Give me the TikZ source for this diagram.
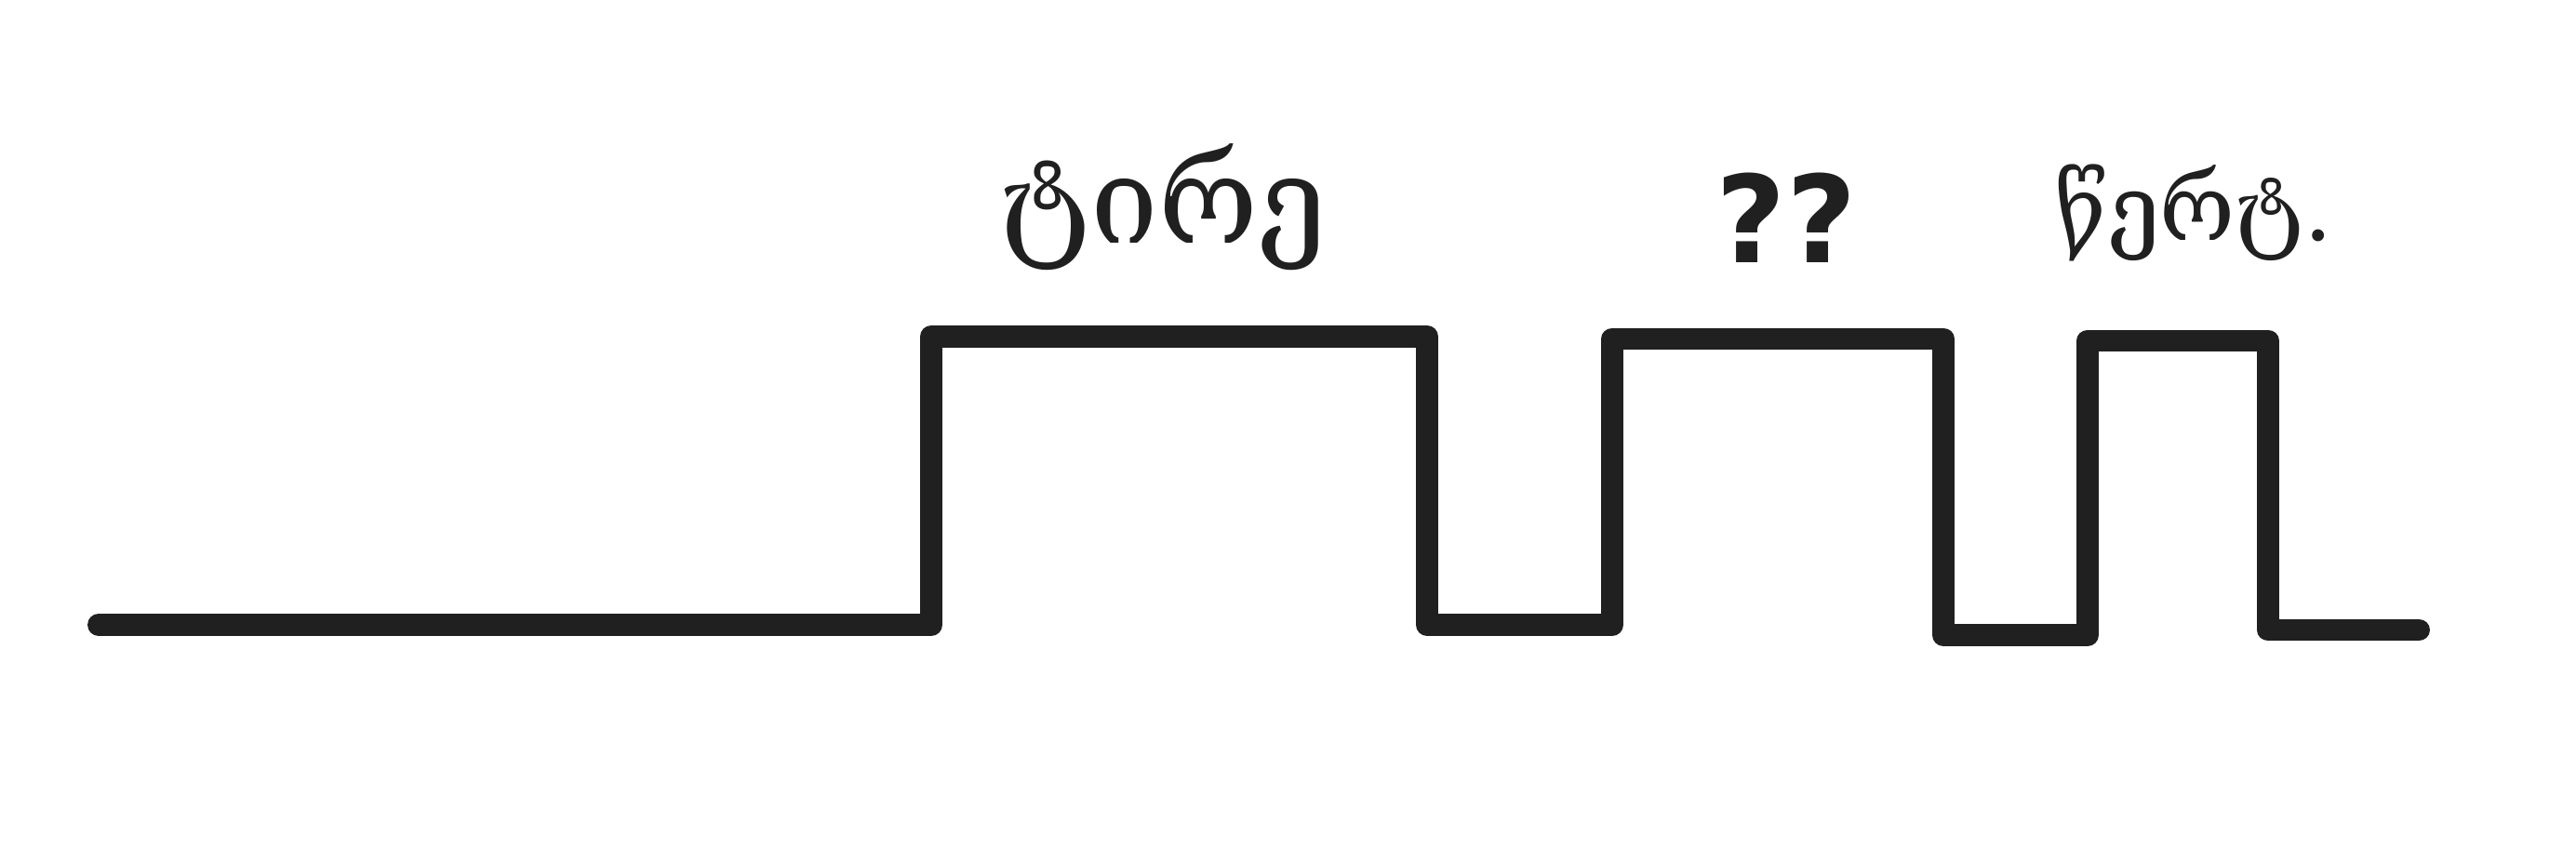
\documentclass[tikz,border=0pt]{standalone}
\usepackage{fontspec}
\usepackage{xcolor}
\usepackage{tikz}
\usetikzlibrary{positioning}
\newfontfamily\geofont{DejaVu Serif}
\newfontfamily\markfont{DejaVu Sans}
\definecolor{signalgray}{HTML}{202020}

\begin{document}
\begin{tikzpicture}[
    wave/.style={line width=6.8pt, draw=signalgray, line cap=round, line join=round},
    wordlabel/.style={font=\geofont\fontsize{32}{38}\selectfont, text=signalgray, anchor=base, inner sep=0pt}]
    \useasboundingbox (0,0) rectangle (27.69,9.11);

    % Signal corners
    \coordinate (start) at (1.06,2.39);
    \coordinate (up1) at (10.01,2.39);
    \coordinate (top1a) at (10.01,5.49);
    \coordinate (top1b) at (15.34,5.49);
    \coordinate (down1) at (15.34,2.39);
    \coordinate (up2) at (17.33,2.39);
    \coordinate (top2a) at (17.33,5.465);
    \coordinate (top2b) at (20.89,5.465);
    \coordinate (down2) at (20.89,2.28);
    \coordinate (up3) at (22.44,2.28);
    \coordinate (top3a) at (22.44,5.445);
    \coordinate (top3b) at (24.38,5.445);
    \coordinate (down3) at (24.38,2.335);
    \coordinate (stop) at (26.00,2.335);

    % Signal
    \draw[wave] (start) -- (up1) -- (top1a) -- (top1b) -- (down1) -- (up2) -- (top2a) -- (top2b)
        -- (down2) -- (up3) -- (top3a) -- (top3b) -- (down3) -- (stop);

    % Words
    \node[wordlabel, font=\geofont\fontsize{37}{44}\selectfont] (dash) at (12.50,6.50) {ტირე};
    \node[wordlabel, font=\markfont\bfseries\fontsize{37}{44}\selectfont] (unknown) at (19.20,6.29) {??};
    \node[wordlabel, font=\geofont\fontsize{28}{34}\selectfont] (dot) at (23.58,6.53) {წერტ.};
\end{tikzpicture}
\end{document}
